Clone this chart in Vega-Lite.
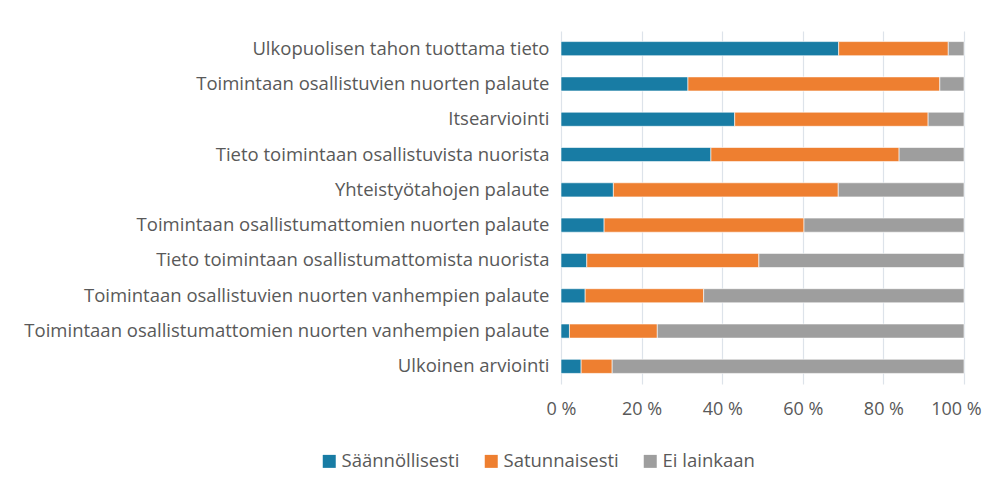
{
  "$schema": "https://vega.github.io/schema/vega-lite/v6.json",
  "autosize": "none",
  "padding": {"left": 561, "top": 31, "right": 22, "bottom": 99},
  "width": 403,
  "height": 353,
  "background": "white",
  "config": {
    "view": {"stroke": null},
    "font": "Open Sans",
    "axis": {"labelFont": "Open Sans", "labelColor": "#595959"}
  },
  "data": {
    "values": [
      {"item": "Ulkopuolisen tahon tuottama tieto", "s": "Säännöllisesti", "o": 1, "v": 68.9},
      {"item": "Ulkopuolisen tahon tuottama tieto", "s": "Satunnaisesti", "o": 2, "v": 27.2},
      {"item": "Ulkopuolisen tahon tuottama tieto", "s": "Ei lainkaan", "o": 3, "v": 3.9},
      {"item": "Toimintaan osallistuvien nuorten palaute", "s": "Säännöllisesti", "o": 1, "v": 31.5},
      {"item": "Toimintaan osallistuvien nuorten palaute", "s": "Satunnaisesti", "o": 2, "v": 62.5},
      {"item": "Toimintaan osallistuvien nuorten palaute", "s": "Ei lainkaan", "o": 3, "v": 6.0},
      {"item": "Itsearviointi", "s": "Säännöllisesti", "o": 1, "v": 43.1},
      {"item": "Itsearviointi", "s": "Satunnaisesti", "o": 2, "v": 48.0},
      {"item": "Itsearviointi", "s": "Ei lainkaan", "o": 3, "v": 8.9},
      {"item": "Tieto toimintaan osallistuvista nuorista", "s": "Säännöllisesti", "o": 1, "v": 37.2},
      {"item": "Tieto toimintaan osallistuvista nuorista", "s": "Satunnaisesti", "o": 2, "v": 46.7},
      {"item": "Tieto toimintaan osallistuvista nuorista", "s": "Ei lainkaan", "o": 3, "v": 16.1},
      {"item": "Yhteistyötahojen palaute", "s": "Säännöllisesti", "o": 1, "v": 13.0},
      {"item": "Yhteistyötahojen palaute", "s": "Satunnaisesti", "o": 2, "v": 55.8},
      {"item": "Yhteistyötahojen palaute", "s": "Ei lainkaan", "o": 3, "v": 31.2},
      {"item": "Toimintaan osallistumattomien nuorten palaute", "s": "Säännöllisesti", "o": 1, "v": 10.7},
      {"item": "Toimintaan osallistumattomien nuorten palaute", "s": "Satunnaisesti", "o": 2, "v": 49.6},
      {"item": "Toimintaan osallistumattomien nuorten palaute", "s": "Ei lainkaan", "o": 3, "v": 39.7},
      {"item": "Tieto toimintaan osallistumattomista nuorista", "s": "Säännöllisesti", "o": 1, "v": 6.4},
      {"item": "Tieto toimintaan osallistumattomista nuorista", "s": "Satunnaisesti", "o": 2, "v": 42.7},
      {"item": "Tieto toimintaan osallistumattomista nuorista", "s": "Ei lainkaan", "o": 3, "v": 50.9},
      {"item": "Toimintaan osallistuvien nuorten vanhempien palaute", "s": "Säännöllisesti", "o": 1, "v": 6.0},
      {"item": "Toimintaan osallistuvien nuorten vanhempien palaute", "s": "Satunnaisesti", "o": 2, "v": 29.4},
      {"item": "Toimintaan osallistuvien nuorten vanhempien palaute", "s": "Ei lainkaan", "o": 3, "v": 64.6},
      {"item": "Toimintaan osallistumattomien nuorten vanhempien palaute", "s": "Säännöllisesti", "o": 1, "v": 2.1},
      {"item": "Toimintaan osallistumattomien nuorten vanhempien palaute", "s": "Satunnaisesti", "o": 2, "v": 21.8},
      {"item": "Toimintaan osallistumattomien nuorten vanhempien palaute", "s": "Ei lainkaan", "o": 3, "v": 76.1},
      {"item": "Ulkoinen arviointi", "s": "Säännöllisesti", "o": 1, "v": 5.0},
      {"item": "Ulkoinen arviointi", "s": "Satunnaisesti", "o": 2, "v": 7.7},
      {"item": "Ulkoinen arviointi", "s": "Ei lainkaan", "o": 3, "v": 87.3}
    ]
  },
  "mark": {"type": "bar", "stroke": "white", "strokeWidth": 0.6},
  "encoding": {
    "y": {
      "field": "item",
      "type": "nominal",
      "sort": null,
      "title": null,
      "scale": {"paddingInner": 0.6, "paddingOuter": 0.3},
      "axis": {"ticks": false, "domain": false, "labelFontSize": 18.5, "labelPadding": 12, "labelLimit": 600, "labelColor": "#595959"}
    },
    "x": {
      "field": "v",
      "type": "quantitative",
      "stack": "normalize",
      "title": null,
      "scale": {"domain": [0, 1], "nice": false},
      "axis": {
        "values": [0, 0.2, 0.4, 0.6, 0.8, 1],
        "labelExpr": "round(datum.value * 100) + ' %'",
        "grid": true,
        "gridColor": "#DDE3EA",
        "gridWidth": 1.2,
        "ticks": false,
        "domain": false,
        "labelFontSize": 18,
        "labelPadding": 16,
        "labelColor": "#595959",
        "labelFlush": false,
        "labelBound": false,
        "labelOffset": {"condition": {"test": "datum.value == 1", "value": -8}, "value": 0}
      }
    },
    "color": {
      "field": "s",
      "type": "nominal",
      "scale": {
        "domain": ["Säännöllisesti", "Satunnaisesti", "Ei lainkaan"],
        "range": ["#187CA4", "#EE7F30", "#9E9E9E"]
      },
      "legend": {
        "title": null,
        "orient": "none",
        "direction": "horizontal",
        "legendX": -241,
        "legendY": 421,
        "symbolType": "square",
        "symbolSize": 169,
        "symbolStrokeWidth": 0,
        "labelFontSize": 18.5,
        "labelColor": "#595959",
        "labelFont": "Open Sans",
        "columnPadding": 22,
        "labelOffset": 3
      }
    },
    "order": {"field": "o", "type": "quantitative"}
  }
}
